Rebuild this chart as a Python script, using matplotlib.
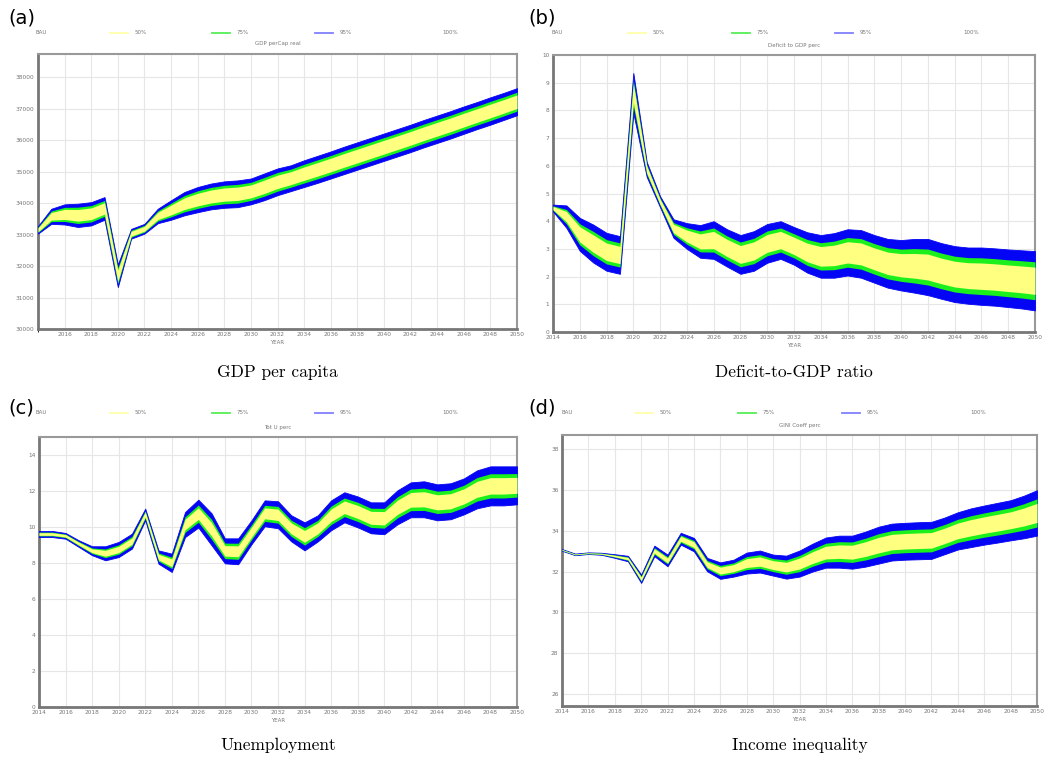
import matplotlib
matplotlib.use("Agg")
import matplotlib.pyplot as plt
import numpy as np

W, H = 1049, 760

years = list(range(2014, 2051))

# panel (a) GDP per capita, outer (95%) envelope
gdp_hi = [33270, 33820, 33960, 33980, 34030, 34190, 32050, 33180, 33340, 33820,
          34090, 34350, 34510, 34620, 34690, 34720, 34780, 34940, 35100, 35200,
          35360, 35500, 35640, 35790, 35930, 36070, 36210, 36350, 36490, 36640,
          36780, 36920, 37070, 37210, 37360, 37500, 37650]
gdp_lo = [33030, 33340, 33320, 33240, 33290, 33470, 31330, 32870, 33030, 33360,
          33470, 33610, 33710, 33800, 33850, 33870, 33960, 34090, 34250, 34380,
          34510, 34640, 34780, 34920, 35060, 35200, 35340, 35480, 35620, 35770,
          35910, 36050, 36200, 36350, 36490, 36640, 36790]

# panel (b) deficit to GDP
def_hi = [4.60, 4.57, 4.12, 3.88, 3.58, 3.46, 9.35, 6.14, 4.90, 4.07,
          3.93, 3.86, 4.00, 3.71, 3.50, 3.64, 3.90, 4.00, 3.79, 3.60,
          3.50, 3.57, 3.71, 3.68, 3.50, 3.36, 3.32, 3.36, 3.36, 3.21,
          3.10, 3.05, 3.05, 3.02, 2.98, 2.95, 2.92]
def_lo = [4.35, 3.76, 2.93, 2.51, 2.21, 2.10, 7.90, 5.60, 4.50, 3.40,
          3.00, 2.68, 2.64, 2.36, 2.10, 2.21, 2.50, 2.64, 2.43, 2.14,
          1.96, 1.96, 2.04, 1.96, 1.78, 1.60, 1.50, 1.42, 1.33, 1.20,
          1.08, 1.02, 0.98, 0.95, 0.90, 0.85, 0.78]

# panel (c) unemployment
unemp_hi = [9.78, 9.78, 9.67, 9.26, 8.93, 8.93, 9.17, 9.63, 11.02, 8.70,
            8.52, 10.83, 11.52, 10.76, 9.37, 9.37, 10.37, 11.48, 11.43, 10.65,
            10.26, 10.65, 11.48, 11.93, 11.70, 11.37, 11.37, 12.04, 12.48, 12.54,
            12.37, 12.43, 12.70, 13.15, 13.37, 13.37, 13.37]
unemp_lo = [9.44, 9.44, 9.35, 8.89, 8.43, 8.15, 8.33, 8.80, 10.37, 7.96,
            7.50, 9.44, 9.97, 8.98, 7.98, 7.93, 9.04, 10.04, 9.93, 9.20,
            8.70, 9.20, 9.82, 10.26, 9.98, 9.65, 9.60, 10.15, 10.54, 10.54,
            10.37, 10.43, 10.70, 11.04, 11.20, 11.20, 11.26]

# panel (d) GINI coefficient
gini_hi = [33.10, 32.88, 32.94, 32.92, 32.85, 32.77, 31.85, 33.27, 32.83, 33.90,
           33.65, 32.67, 32.45, 32.58, 32.93, 33.03, 32.83, 32.78, 33.03, 33.37,
           33.67, 33.76, 33.76, 33.96, 34.20, 34.35, 34.39, 34.42, 34.44, 34.65,
           34.91, 35.10, 35.24, 35.37, 35.50, 35.72, 35.99]
gini_lo = [33.02, 32.80, 32.86, 32.82, 32.67, 32.50, 31.44, 32.75, 32.26, 33.32,
           32.99, 32.01, 31.64, 31.75, 31.90, 31.95, 31.80, 31.65, 31.75, 32.00,
           32.19, 32.19, 32.14, 32.24, 32.39, 32.54, 32.58, 32.60, 32.62, 32.85,
           33.08, 33.20, 33.32, 33.42, 33.53, 33.63, 33.76]

# share of the 95% envelope covered by the 50% and 75% bands
shares = {"a": (0.50, 0.70), "b": (0.46, 0.64), "c": (0.42, 0.62), "d": (0.42, 0.62)}

legend_labels = ["BAU", "50%", "75%", "95%", "100%"]

YELLOW = "#ffff80"
GREEN = "#1cf01c"
BLUE = "#0505f5"
GRID = "#e6e6e6"
TXT = "#777777"


def px_axes(fig, x0, y0, x1, y1):
    # pixel box (top-left origin) -> figure axes
    return fig.add_axes([x0 / W, (H - y1) / H, (x1 - x0) / W, (y1 - y0) / H])


def draw_band(ax, hi, lo, share):
    hi = np.array(hi, float)
    lo = np.array(lo, float)
    mid = (hi + lo) / 2
    half = (hi - lo) / 2
    ax.fill_between(years, lo, hi, color=BLUE, lw=0.6, edgecolor=BLUE, zorder=3)
    ax.fill_between(years, mid - share[1] * half, mid + share[1] * half,
                    color=GREEN, lw=0, zorder=4)
    ax.fill_between(years, mid - share[0] * half, mid + share[0] * half,
                    color=YELLOW, lw=0, zorder=5)


def style_axes(ax, ylim, yticks, xticks):
    ax.set_xlim(2014, 2050)
    ax.set_ylim(*ylim)
    ax.set_xticks(xticks)
    ax.set_yticks(yticks)
    ax.set_xticklabels([str(t) for t in xticks])
    ax.set_yticklabels([str(t) for t in yticks])
    ax.tick_params(length=0, labelsize=4.2, labelcolor=TXT, pad=2.5)
    ax.set_xticks(range(2014, 2051, 2), minor=True)
    ax.grid(True, which="both", color=GRID, lw=0.8, zorder=0)
    for s in ax.spines.values():
        s.set_color("#999999")
        s.set_linewidth(1.5)
    ax.spines["left"].set_color("#777777")
    ax.spines["bottom"].set_color("#777777")
    ax.spines["left"].set_linewidth(2.0)
    ax.spines["bottom"].set_linewidth(2.0)


def legend_row(fig, x0, y, pos):
    # pos: x of BAU, yellow seg, green seg, blue seg, 100% text
    f = lambda v: v / W
    yy = (H - y) / H
    fig.text(f(pos[0]), yy, legend_labels[0], fontsize=4, color=TXT, va="center")
    cols = ["#ffffaa", "#55ee55", "#8080ff"]
    for i in range(3):
        xs = pos[i + 1]
        fig.add_artist(plt.Line2D([f(xs), f(xs + 18)], [yy, yy], color=cols[i], lw=1.3))
        fig.text(f(xs + 25), yy, legend_labels[i + 1], fontsize=4, color=TXT, va="center")
    fig.text(f(pos[4]), yy, legend_labels[4], fontsize=4, color=TXT, va="center")


fig = plt.figure(figsize=(W / 100, H / 100), dpi=100)

panels = [
    # key, box, hi, lo, ylim, yticks, xticks, title, caption, label
    ("a", (38, 54, 517, 329), gdp_hi, gdp_lo, (30000, 38735),
     list(range(30000, 38001, 1000)), list(range(2016, 2051, 2)),
     "GDP perCap real", "GDP per capita", "(a)"),
    ("b", (553, 55, 1035, 332), def_hi, def_lo, (0, 10),
     list(range(0, 11)), list(range(2014, 2051, 2)),
     "Deficit to GDP perc", "Deficit-to-GDP ratio", "(b)"),
    ("c", (39, 437, 517, 707), unemp_hi, unemp_lo, (0, 15),
     list(range(0, 15, 2)), list(range(2014, 2051, 2)),
     "Tot U perc", "Unemployment", "(c)"),
    ("d", (562, 435, 1037, 706), gini_hi, gini_lo, (25.4, 38.7),
     list(range(26, 39, 2)), list(range(2014, 2051, 2)),
     "GINI Coeff perc", "Income inequality", "(d)"),
]

legend_pos = {
    "a": (35, 110, 212, 315, 442),
    "b": (551, 628, 732, 835, 963),
    "c": (35, 110, 212, 315, 442),
    "d": (562, 635, 738, 842, 970),
}
legend_y = {"a": 33, "b": 33, "c": 413, "d": 413}
label_xy = {"a": (8, 18), "b": (528, 18), "c": (8, 408), "d": (528, 408)}
caption_y = {"a": 372, "b": 372, "c": 745, "d": 745}

for key, box, hi, lo, ylim, yticks, xticks, title, caption, lab in panels:
    ax = px_axes(fig, *box)
    draw_band(ax, hi, lo, shares[key])
    style_axes(ax, ylim, yticks, xticks)
    ax.set_xlabel("YEAR", fontsize=4, color=TXT, labelpad=2)
    cx = (box[0] + box[2]) / 2
    fig.text(cx / W, (H - (box[1] - 10)) / H, title, fontsize=4, color=TXT,
             ha="center", va="center")
    legend_row(fig, box[0], legend_y[key], legend_pos[key])
    fig.text(label_xy[key][0] / W, (H - label_xy[key][1]) / H, lab, fontsize=14,
             ha="left", va="center", family="DejaVu Sans")
    fig.text(cx / W, (H - caption_y[key]) / H, caption, fontsize=12.5,
             ha="center", va="center", family="cmr10")

fig.savefig("out.png", dpi=100)
